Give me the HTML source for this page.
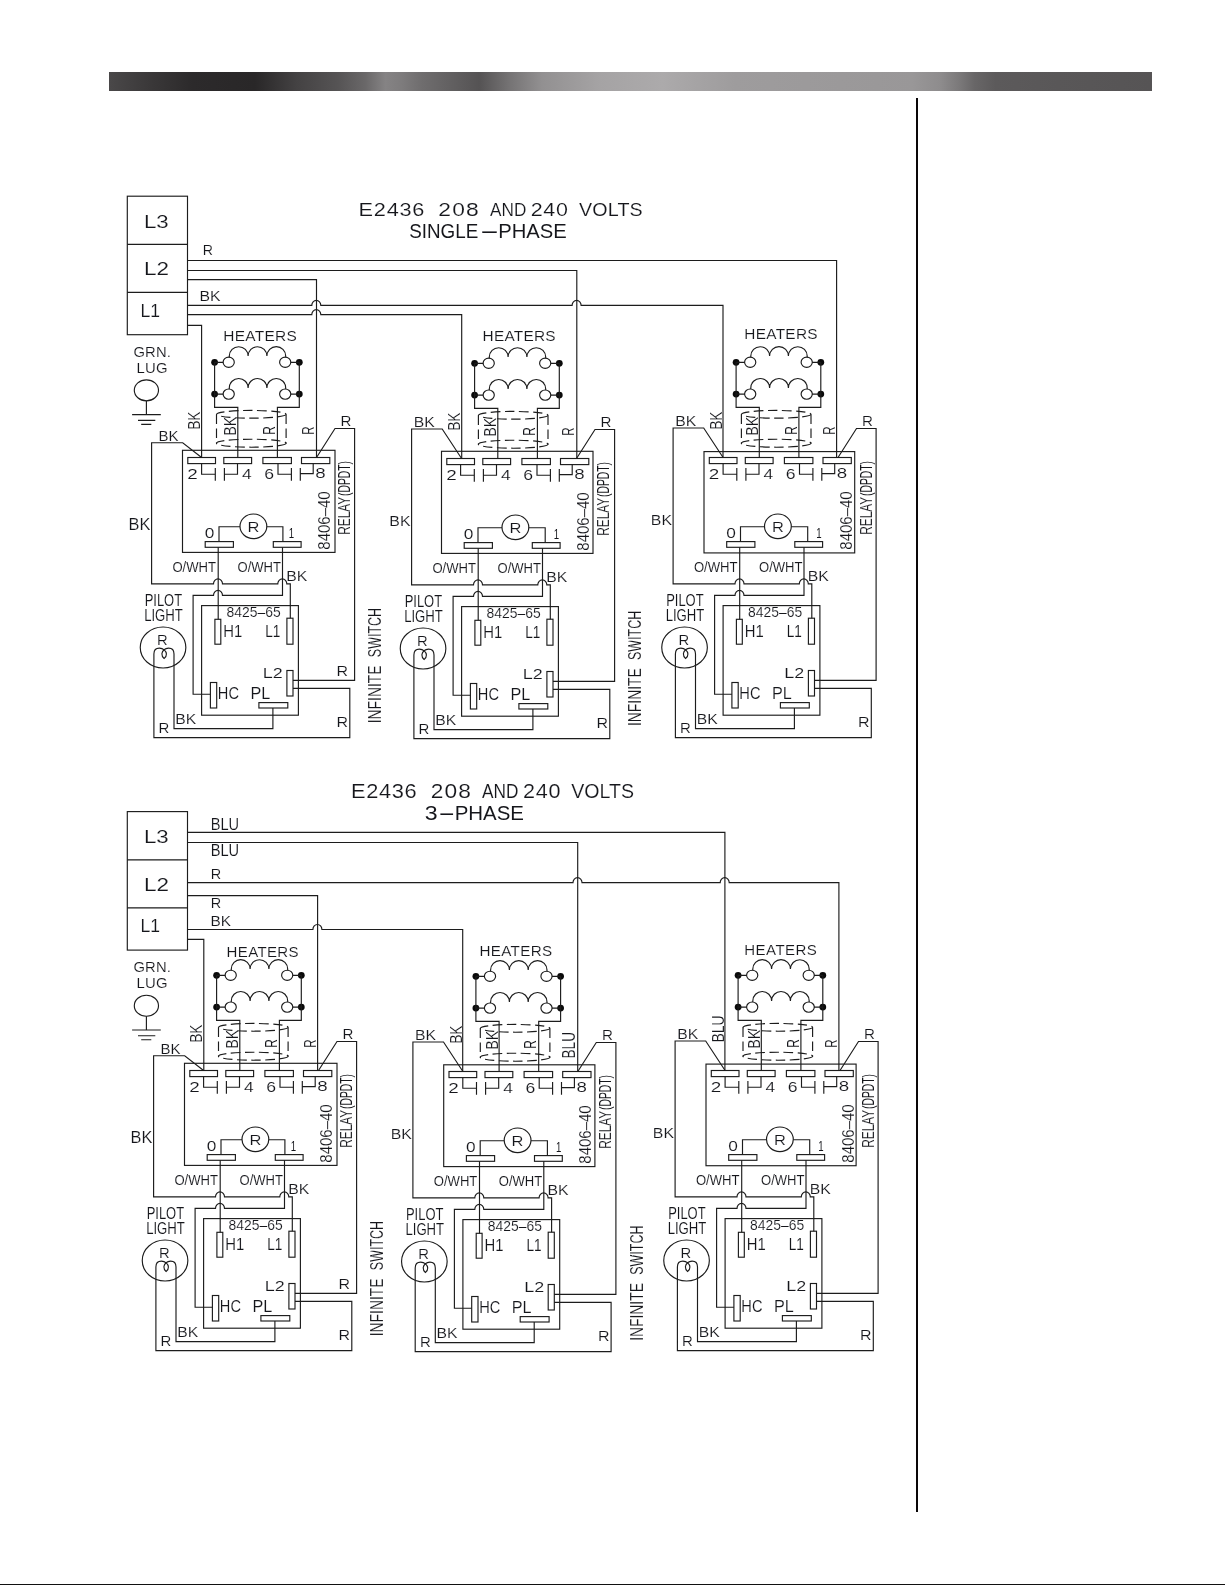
<!DOCTYPE html>
<html><head><meta charset="utf-8"><title>E2436 Wiring Diagrams</title>
<style>
html,body{margin:0;padding:0;background:#fff}
body{width:1225px;height:1585px;position:relative;overflow:hidden;font-family:"Liberation Sans",sans-serif}
.bar{position:absolute;left:109px;top:72px;width:1043px;height:19px;background:linear-gradient(to right,#4a4849 0,#3a3839 4%,#2c2a2b 8%,#292728 14%,#444243 18%,#565455 22%,#6a6869 24.6%,#858384 26.5%,#7e7c7d 28%,#6f6d6e 30%,#555354 35.5%,#767475 38.5%,#929091 41.5%,#a5a3a4 47%,#acaaab 53%,#9e9c9d 60%,#999798 77%,#8e8c8d 79.7%,#7a7879 81.6%,#686667 83%,#5c5a5b 85%,#595758 91%,#565455 100%)}
.vline{position:absolute;left:916px;top:98px;width:2px;height:1414px;background:#0a0708}
.bline{position:absolute;left:0;top:1584px;width:1225px;height:1px;background:#111}
svg{position:absolute;left:0;top:0;will-change:transform}
svg path,svg rect,svg ellipse{fill:none;stroke:#1c1c1c;stroke-width:1.15}
svg text{font-family:"Liberation Sans",sans-serif;font-size:200px;fill:#15161b;stroke:#fff;stroke-width:0.14px;vector-effect:non-scaling-stroke}
svg text.c1{stroke-width:0.1px}
svg text.c2{stroke:none}
</style></head><body>
<div class="bar"></div><div class="vline"></div><div class="bline"></div>
<svg width="1225" height="1585" viewBox="0 0 1225 1585">
<rect x="127.3" y="196.2" width="60.2" height="138.5" />
<path d="M127.3,244.4H187.5M127.3,292.4H187.5" />
<text transform="matrix(0.11111 0 0 0.09493 144.02 227.7)">L3</text>
<text transform="matrix(0.11224 0 0 0.09275 144 275.4)">L2</text>
<text transform="matrix(0.08782 0 0 0.09420 140.49 316.9)">L1</text>
<text letter-spacing="2.04" transform="matrix(0.07398 0 0 0.07174 133.46 356.9)">GRN.</text>
<text letter-spacing="3.72" transform="matrix(0.07440 0 0 0.07101 136.41 372.5)">LUG</text>
<ellipse cx="146.4" cy="390.3" rx="12.1" ry="10.5" />
<path d="M146.4,400.8V414.6M132.1,414.6H160.8M138,420.3H155.3M141.2,424.3H151.3" />
<text letter-spacing="7.05" transform="matrix(0.10855 0 0 0.09565 358.56 216.3)">E2436</text>
<text letter-spacing="10.88" transform="matrix(0.11403 0 0 0.09565 438.26 216.3)">208</text>
<text transform="matrix(0.08596 0 0 0.09565 490.1 216.3)">AND</text>
<text letter-spacing="7.37" transform="matrix(0.10733 0 0 0.09565 530.63 216.3)">240</text>
<text letter-spacing="1.94" transform="matrix(0.09847 0 0 0.09565 578.9 216.3)">VOLTS</text>
<text transform="matrix(0.09783 0 0 0.09783 0 237.9)"><tspan x="4182.45" textLength="705.92" lengthAdjust="spacingAndGlyphs">SINGLE</tspan><tspan x="4902.58" textLength="204.27" lengthAdjust="spacingAndGlyphs">-</tspan><tspan x="5093.56" textLength="700.55" lengthAdjust="spacingAndGlyphs">PHASE</tspan></text>
<text transform="matrix(0.07059 0 0 0.07101 202.67 255.3)">R</text>
<text transform="matrix(0.07903 0 0 0.07464 199.54 301)">BK</text>
<path d="M187.5,260.5H836.6V457.5" />
<path d="M187.5,270.5H576.8V458.6" />
<path d="M187.5,279.6H316.5V457.5" />
<path d="M187.5,305.3H311.8 A4.5 5 0 0 1 320.8,305.3 H572.1 A4.5 5 0 0 1 581.1,305.3 H723V457.5" />
<path d="M187.5,314.6H311.8 A4.5 5 0 0 1 320.8,314.6 H461.7V458.6" />
<path d="M187.5,325.3H201.6V457.5" />
<text letter-spacing="3.45" transform="matrix(0.07732 0 0 0.07319 223.26 341)">HEATERS</text>
<circle cx="214.6" cy="362.3" r="3.4" fill="#0a0a0a" stroke="none"/>
<circle cx="299.3" cy="362.3" r="3.4" fill="#0a0a0a" stroke="none"/>
<ellipse cx="228.7" cy="362.3" rx="5.6" ry="5.1" />
<ellipse cx="285.2" cy="362.3" rx="5.6" ry="5.1" />
<path d="M214.6,362.3H223.3M290.6,362.3H299.3" />
<path d="M229.3,357.2V356.1A9.4 9.4 0 0 1 248.1,356.1A9.4 9.4 0 0 1 266.9,356.1A9.4 9.4 0 0 1 285.7,356.1V357.2" />
<circle cx="214.6" cy="394.1" r="3.4" fill="#0a0a0a" stroke="none"/>
<circle cx="299.3" cy="394.1" r="3.4" fill="#0a0a0a" stroke="none"/>
<ellipse cx="228.7" cy="394.1" rx="5.6" ry="5.1" />
<ellipse cx="285.2" cy="394.1" rx="5.6" ry="5.1" />
<path d="M214.6,394.1H223.3M290.6,394.1H299.3" />
<path d="M229.3,389V387.9A9.4 9.4 0 0 1 248.1,387.9A9.4 9.4 0 0 1 266.9,387.9A9.4 9.4 0 0 1 285.7,387.9V389" />
<path d="M214.6,362.3V407.3H237.8V457.5" />
<path d="M299.3,362.3V407.3H277.4V457.5" />
<ellipse cx="251.3" cy="414.3" rx="34.8" ry="3.9" stroke-dasharray="9.5 4.5"/>
<ellipse cx="251.3" cy="443.2" rx="34.8" ry="4" stroke-dasharray="9.5 4.5"/>
<path d="M216.5,414.4V443.4M286.1,414.4V443.4" stroke-dasharray="9.5 4.5"/>
<text class="c1" transform="matrix(0 -0.07097 0.08116 0 236.4 435.64)">BK</text>
<text class="c2" transform="matrix(0 -0.05966 0.08551 0 275.1 434.85)">R</text>
<text class="c1" transform="matrix(0 -0.06734 0.08188 0 200.2 429.58)">BK</text>
<text class="c1" transform="matrix(0 -0.05798 0.08043 0 313.9 434.63)">R</text>
<rect x="182.5" y="450.3" width="152.5" height="102.1" />
<rect x="187.8" y="457.5" width="27.7" height="6.1" />
<rect x="223.8" y="457.5" width="27.8" height="6.1" />
<rect x="262.9" y="457.5" width="28.5" height="6.1" />
<rect x="301.5" y="457.5" width="28.3" height="6.1" />
<path d="M201.6,463.6V474.2H215.3M215.3,467.9V480.7" />
<path d="M224.4,467.9V480.7M224.4,474.2H237.5V463.6" />
<path d="M278,463.6V474.2H291.4M291.4,467.9V480.7" />
<path d="M300.3,467.9V480.7M300.3,473.6H313.2V463.6" />
<text transform="matrix(0.09451 0 0 0.07174 187.15 478.7)">2</text>
<text transform="matrix(0.08713 0 0 0.07174 242.05 478.7)">4</text>
<text transform="matrix(0.08817 0 0 0.07174 264.32 478.7)">6</text>
<text transform="matrix(0.09362 0 0 0.07391 315.36 478.4)">8</text>
<ellipse cx="253.4" cy="526.3" rx="13.4" ry="12.3" />
<text transform="matrix(0.08235 0 0 0.07246 247.38 531.7)">R</text>
<rect x="205.2" y="541.6" width="28.2" height="5.7" />
<rect x="273.3" y="541.6" width="27.8" height="5.7" />
<path d="M219,541.6V526.7H240M266.8,526.7H282.9V541.6" />
<text transform="matrix(0.08646 0 0 0.07246 204.81 537.9)">0</text>
<text class="c2" transform="matrix(0.04828 0 0 0.07246 288.78 537.9)">1</text>
<text transform="matrix(0 -0.07493 0.07971 0 330.1 549.67)">8406–40</text>
<text class="c1" transform="matrix(0 -0.05942 0.07826 0 350.1 534.85)">RELAY</text>
<text class="c2" transform="matrix(0 -0.05176 0.07826 0 350.1 496.02)">(DPDT)</text>
<text class="c1" transform="matrix(0.06554 0 0 0.07609 172.41 572.4)">O/WHT</text>
<text class="c1" transform="matrix(0.06524 0 0 0.07609 237.51 572.4)">O/WHT</text>
<path d="M218.2,547.3V619.3" />
<text transform="matrix(0.07500 0 0 0.07029 158.6 440.7)">BK</text>
<path d="M201.6,457.5L182.7,442.7H151.6V583.8H213.5 A4.5 5 0 0 1 222.5,583.8 H277.8 A4.5 5 0 0 1 286.8,583.8 H290.3V618.2" />
<path d="M282.5,547.3V595.4H222.5 A4.5 5 0 0 0 213.5,595.4 H193.1V694.2H210.4" />
<text transform="matrix(0.07903 0 0 0.07319 286.14 581.2)">BK</text>
<text transform="matrix(0.08185 0 0 0.07971 128.59 529.8)">BK</text>
<rect x="201.6" y="605.6" width="96.8" height="109.6" />
<text transform="matrix(0.06965 0 0 0.06884 226.47 617.4)">8425–65</text>
<rect x="214.9" y="619.3" width="5.9" height="24.9" />
<rect x="286.9" y="618.2" width="6.1" height="26" />
<rect x="286.9" y="670.5" width="6.1" height="25.5" />
<rect x="210.4" y="682.5" width="6.3" height="25.5" />
<rect x="258.9" y="702.6" width="28.9" height="5.4" />
<text transform="matrix(0.07435 0 0 0.07826 223.21 636.7)">H1</text>
<text class="c1" transform="matrix(0.06802 0 0 0.07826 265.21 636.7)">L1</text>
<text transform="matrix(0.08980 0 0 0.07246 262.86 677.6)">L2</text>
<text transform="matrix(0.07321 0 0 0.07826 217.83 699.2)">HC</text>
<text transform="matrix(0.08108 0 0 0.07826 250.4 699.2)">PL</text>
<path d="M293,680.3H354.6V428.5H335L316.5,457.5" />
<text transform="matrix(0.07563 0 0 0.06957 340.59 425.8)">R</text>
<ellipse cx="163.05" cy="647.5" rx="22.8" ry="20.5" />
<text transform="matrix(0.07395 0 0 0.07681 157.02 644.5)">R</text>
<text class="c1" transform="matrix(0.06487 0 0 0.08333 144.66 605.7)">PILOT</text>
<text class="c1" transform="matrix(0.06573 0 0 0.08261 144.15 620.7)">LIGHT</text>
<path d="M293,688.4H349.8V737.6H153.9V654C153.9,650.2 156.3,648.1 159.4,648.1C163.2,648.1 166.2,651 166.4,654C166.4,656 165.5,657.8 164.1,658.6C162.6,657.6 161.9,655.5 161.9,653.8C162.2,650.6 165,648.1 168.6,648.1C171.6,648.1 174,650.2 174,654V728.6H272.9V708" />
<text transform="matrix(0.07863 0 0 0.07391 175.24 723.8)">BK</text>
<text transform="matrix(0.07479 0 0 0.07101 158.6 733.1)">R</text>
<text transform="matrix(0.07983 0 0 0.07246 336.62 675.8)">R</text>
<text transform="matrix(0.07983 0 0 0.07391 336.62 727.4)">R</text>
<text class="c1" transform="matrix(0 -0.06939 0.08768 0 380.5 723.25)">INFINITE</text>
<text class="c1" transform="matrix(0 -0.06239 0.08768 0 380.5 657.16)">SWITCH</text>
<text letter-spacing="3.21" transform="matrix(0.07701 0 0 0.07319 482.57 341.2)">HEATERS</text>
<circle cx="474.6" cy="363.3" r="3.4" fill="#0a0a0a" stroke="none"/>
<circle cx="559.3" cy="363.3" r="3.4" fill="#0a0a0a" stroke="none"/>
<ellipse cx="488.7" cy="363.3" rx="5.6" ry="5.1" />
<ellipse cx="545.2" cy="363.3" rx="5.6" ry="5.1" />
<path d="M474.6,363.3H483.3M550.6,363.3H559.3" />
<path d="M489.3,358.2V357.1A9.4 9.4 0 0 1 508.1,357.1A9.4 9.4 0 0 1 526.9,357.1A9.4 9.4 0 0 1 545.7,357.1V358.2" />
<circle cx="474.6" cy="395.1" r="3.4" fill="#0a0a0a" stroke="none"/>
<circle cx="559.3" cy="395.1" r="3.4" fill="#0a0a0a" stroke="none"/>
<ellipse cx="488.7" cy="395.1" rx="5.6" ry="5.1" />
<ellipse cx="545.2" cy="395.1" rx="5.6" ry="5.1" />
<path d="M474.6,395.1H483.3M550.6,395.1H559.3" />
<path d="M489.3,390V388.9A9.4 9.4 0 0 1 508.1,388.9A9.4 9.4 0 0 1 526.9,388.9A9.4 9.4 0 0 1 545.7,388.9V390" />
<path d="M474.6,363.3V408.3H497.8V458.5" />
<path d="M559.3,363.3V408.3H537.4V458.5" />
<ellipse cx="513.2" cy="415.3" rx="34.8" ry="3.9" stroke-dasharray="9.5 4.5"/>
<ellipse cx="513.2" cy="444.2" rx="34.8" ry="4" stroke-dasharray="9.5 4.5"/>
<path d="M478.4,415.4V444.4M548,415.4V444.4" stroke-dasharray="9.5 4.5"/>
<text class="c1" transform="matrix(0 -0.07097 0.08116 0 496.4 436.64)">BK</text>
<text class="c2" transform="matrix(0 -0.05966 0.08551 0 535.1 435.85)">R</text>
<text class="c1" transform="matrix(0 -0.06734 0.08188 0 460.2 430.58)">BK</text>
<text class="c1" transform="matrix(0 -0.05798 0.08043 0 573.9 435.63)">R</text>
<rect x="441.5" y="451.3" width="151.5" height="102.1" />
<rect x="446.8" y="458.5" width="27.7" height="6.1" />
<rect x="482.8" y="458.5" width="27.8" height="6.1" />
<rect x="521.9" y="458.5" width="28.5" height="6.1" />
<rect x="560.5" y="458.5" width="28.3" height="6.1" />
<path d="M460.6,464.6V475.2H474.3M474.3,468.9V481.7" />
<path d="M483.4,468.9V481.7M483.4,475.2H496.5V464.6" />
<path d="M537,464.6V475.2H550.4M550.4,468.9V481.7" />
<path d="M559.3,468.9V481.7M559.3,474.6H572.2V464.6" />
<text transform="matrix(0.09451 0 0 0.07174 446.15 479.7)">2</text>
<text transform="matrix(0.08713 0 0 0.07174 501.05 479.7)">4</text>
<text transform="matrix(0.08817 0 0 0.07174 523.32 479.7)">6</text>
<text transform="matrix(0.09362 0 0 0.07391 574.36 479.4)">8</text>
<ellipse cx="515.4" cy="527.3" rx="13.4" ry="12.3" />
<text transform="matrix(0.08235 0 0 0.07246 509.38 532.7)">R</text>
<rect x="464.2" y="542.6" width="28.2" height="5.7" />
<rect x="532.3" y="542.6" width="27.8" height="5.7" />
<path d="M478,542.6V527.7H502M528.8,527.7H545.2V542.6" />
<text transform="matrix(0.08646 0 0 0.07246 463.81 538.9)">0</text>
<text class="c2" transform="matrix(0.04828 0 0 0.07246 553.78 538.9)">1</text>
<text transform="matrix(0 -0.07493 0.07971 0 589.1 550.67)">8406–40</text>
<text class="c1" transform="matrix(0 -0.05942 0.07826 0 609.1 535.85)">RELAY</text>
<text class="c2" transform="matrix(0 -0.05176 0.07826 0 609.1 497.02)">(DPDT)</text>
<text class="c1" transform="matrix(0.06554 0 0 0.07609 432.41 573.4)">O/WHT</text>
<text class="c1" transform="matrix(0.06524 0 0 0.07609 497.51 573.4)">O/WHT</text>
<path d="M478.2,548.3V620.3" />
<text transform="matrix(0.07903 0 0 0.07246 413.74 427)">BK</text>
<path d="M461.6,458.5L442.2,429H411.6V584.8H473.5 A4.5 5 0 0 1 482.5,584.8 H537.8 A4.5 5 0 0 1 546.8,584.8 H550.3V619.2" />
<path d="M542.5,548.3V596.4H482.5 A4.5 5 0 0 0 473.5,596.4 H453.1V695.2H470.4" />
<text transform="matrix(0.07903 0 0 0.07319 546.14 582.2)">BK</text>
<text transform="matrix(0.07944 0 0 0.07681 389.33 525.9)">BK</text>
<rect x="461.6" y="606.6" width="96.8" height="109.6" />
<text transform="matrix(0.06965 0 0 0.06884 486.47 618.4)">8425–65</text>
<rect x="474.9" y="620.3" width="5.9" height="24.9" />
<rect x="546.9" y="619.2" width="6.1" height="26" />
<rect x="546.9" y="671.5" width="6.1" height="25.5" />
<rect x="470.4" y="683.5" width="6.3" height="25.5" />
<rect x="518.9" y="703.6" width="28.9" height="5.4" />
<text transform="matrix(0.07435 0 0 0.07826 483.21 637.7)">H1</text>
<text class="c1" transform="matrix(0.06802 0 0 0.07826 525.21 637.7)">L1</text>
<text transform="matrix(0.08980 0 0 0.07246 522.86 678.6)">L2</text>
<text transform="matrix(0.07321 0 0 0.07826 477.83 700.2)">HC</text>
<text transform="matrix(0.08108 0 0 0.07826 510.4 700.2)">PL</text>
<path d="M553,681.3H614.6V429.5H595L576.5,458.5" />
<text transform="matrix(0.07563 0 0 0.06957 600.59 426.8)">R</text>
<ellipse cx="423.05" cy="648.5" rx="22.8" ry="20.5" />
<text transform="matrix(0.07395 0 0 0.07681 417.02 645.5)">R</text>
<text class="c1" transform="matrix(0.06487 0 0 0.08333 404.66 606.7)">PILOT</text>
<text class="c1" transform="matrix(0.06573 0 0 0.08261 404.15 621.7)">LIGHT</text>
<path d="M553,689.4H609.8V738.6H413.9V655C413.9,651.2 416.3,649.1 419.4,649.1C423.2,649.1 426.2,652 426.4,655C426.4,657 425.5,658.8 424.1,659.6C422.6,658.6 421.9,656.5 421.9,654.8C422.2,651.6 425,649.1 428.6,649.1C431.6,649.1 434,651.2 434,655V729.6H532.9V709" />
<text transform="matrix(0.07863 0 0 0.07391 435.24 724.8)">BK</text>
<text transform="matrix(0.07479 0 0 0.07101 418.6 734.1)">R</text>
<text transform="matrix(0.07983 0 0 0.07391 596.62 728.4)">R</text>
<text class="c1" transform="matrix(0 -0.06939 0.08768 0 640.5 726.05)">INFINITE</text>
<text class="c1" transform="matrix(0 -0.06239 0.08768 0 640.5 659.96)">SWITCH</text>
<text letter-spacing="3.83" transform="matrix(0.07703 0 0 0.07246 744.27 339.2)">HEATERS</text>
<circle cx="736.1" cy="362.3" r="3.4" fill="#0a0a0a" stroke="none"/>
<circle cx="820.8" cy="362.3" r="3.4" fill="#0a0a0a" stroke="none"/>
<ellipse cx="750.2" cy="362.3" rx="5.6" ry="5.1" />
<ellipse cx="806.7" cy="362.3" rx="5.6" ry="5.1" />
<path d="M736.1,362.3H744.8M812.1,362.3H820.8" />
<path d="M750.8,357.2V356.1A9.4 9.4 0 0 1 769.6,356.1A9.4 9.4 0 0 1 788.4,356.1A9.4 9.4 0 0 1 807.2,356.1V357.2" />
<circle cx="736.1" cy="394.1" r="3.4" fill="#0a0a0a" stroke="none"/>
<circle cx="820.8" cy="394.1" r="3.4" fill="#0a0a0a" stroke="none"/>
<ellipse cx="750.2" cy="394.1" rx="5.6" ry="5.1" />
<ellipse cx="806.7" cy="394.1" rx="5.6" ry="5.1" />
<path d="M736.1,394.1H744.8M812.1,394.1H820.8" />
<path d="M750.8,389V387.9A9.4 9.4 0 0 1 769.6,387.9A9.4 9.4 0 0 1 788.4,387.9A9.4 9.4 0 0 1 807.2,387.9V389" />
<path d="M736.1,362.3V407.3H759.3V457.5" />
<path d="M820.8,362.3V407.3H798.9V457.5" />
<ellipse cx="776.2" cy="414.3" rx="34.8" ry="3.9" stroke-dasharray="9.5 4.5"/>
<ellipse cx="776.2" cy="443.2" rx="34.8" ry="4" stroke-dasharray="9.5 4.5"/>
<path d="M741.4,414.4V443.4M811,414.4V443.4" stroke-dasharray="9.5 4.5"/>
<text class="c1" transform="matrix(0 -0.07097 0.08116 0 757.9 435.64)">BK</text>
<text class="c2" transform="matrix(0 -0.05966 0.08551 0 796.6 434.85)">R</text>
<text class="c1" transform="matrix(0 -0.06734 0.08188 0 721.7 429.58)">BK</text>
<text class="c1" transform="matrix(0 -0.05798 0.08043 0 835.4 434.63)">R</text>
<rect x="704" y="451.6" width="150.7" height="101.32" />
<rect x="709.3" y="457.5" width="27.7" height="6.1" />
<rect x="745.3" y="457.5" width="27.8" height="6.1" />
<rect x="784.4" y="457.5" width="28.5" height="6.1" />
<rect x="823" y="457.5" width="28.3" height="6.1" />
<path d="M723.1,463.6V474.2H736.8M736.8,467.9V480.7" />
<path d="M745.9,467.9V480.7M745.9,474.2H759V463.6" />
<path d="M799.5,463.6V474.2H812.9M812.9,467.9V480.7" />
<path d="M821.8,467.9V480.7M821.8,473.6H834.7V463.6" />
<text transform="matrix(0.09451 0 0 0.07174 708.65 478.7)">2</text>
<text transform="matrix(0.08713 0 0 0.07174 763.55 478.7)">4</text>
<text transform="matrix(0.08817 0 0 0.07174 785.82 478.7)">6</text>
<text transform="matrix(0.09362 0 0 0.07391 836.86 478.4)">8</text>
<ellipse cx="777.9" cy="526.3" rx="13.4" ry="12.3" />
<text transform="matrix(0.08235 0 0 0.07246 771.88 531.7)">R</text>
<rect x="726.7" y="541.6" width="28.2" height="5.7" />
<rect x="794.8" y="541.6" width="27.8" height="5.7" />
<path d="M740.5,541.6V526.7H764.5M791.3,526.7H807.7V541.6" />
<text transform="matrix(0.08646 0 0 0.07246 726.31 537.9)">0</text>
<text class="c2" transform="matrix(0.04828 0 0 0.07246 816.28 537.9)">1</text>
<text transform="matrix(0 -0.07493 0.07971 0 851.6 549.67)">8406–40</text>
<text class="c1" transform="matrix(0 -0.05942 0.07826 0 871.6 534.85)">RELAY</text>
<text class="c2" transform="matrix(0 -0.05176 0.07826 0 871.6 496.02)">(DPDT)</text>
<text class="c1" transform="matrix(0.06554 0 0 0.07609 693.91 572.4)">O/WHT</text>
<text class="c1" transform="matrix(0.06524 0 0 0.07609 759.01 572.4)">O/WHT</text>
<path d="M739.7,547.3V619.3" />
<text transform="matrix(0.07903 0 0 0.07246 675.24 426)">BK</text>
<path d="M723.1,457.5L703.7,428H673.1V583.8H735 A4.5 5 0 0 1 744,583.8 H799.3 A4.5 5 0 0 1 808.3,583.8 H811.8V618.2" />
<path d="M804,547.3V595.4H744 A4.5 5 0 0 0 735,595.4 H714.6V694.2H731.9" />
<text transform="matrix(0.07903 0 0 0.07319 807.64 581.2)">BK</text>
<text transform="matrix(0.07944 0 0 0.07681 650.83 524.9)">BK</text>
<rect x="723.1" y="605.6" width="96.8" height="109.6" />
<text transform="matrix(0.06965 0 0 0.06884 747.97 617.4)">8425–65</text>
<rect x="736.4" y="619.3" width="5.9" height="24.9" />
<rect x="808.4" y="618.2" width="6.1" height="26" />
<rect x="808.4" y="670.5" width="6.1" height="25.5" />
<rect x="731.9" y="682.5" width="6.3" height="25.5" />
<rect x="780.4" y="702.6" width="28.9" height="5.4" />
<text transform="matrix(0.07435 0 0 0.07826 744.71 636.7)">H1</text>
<text class="c1" transform="matrix(0.06802 0 0 0.07826 786.71 636.7)">L1</text>
<text transform="matrix(0.08980 0 0 0.07246 784.36 677.6)">L2</text>
<text transform="matrix(0.07321 0 0 0.07826 739.33 699.2)">HC</text>
<text transform="matrix(0.08108 0 0 0.07826 771.9 699.2)">PL</text>
<path d="M814.5,680.3H876.1V428.5H856.5L838,457.5" />
<text transform="matrix(0.07563 0 0 0.06957 862.09 425.8)">R</text>
<ellipse cx="684.55" cy="647.5" rx="22.8" ry="20.5" />
<text transform="matrix(0.07395 0 0 0.07681 678.52 644.5)">R</text>
<text class="c1" transform="matrix(0.06487 0 0 0.08333 666.16 605.7)">PILOT</text>
<text class="c1" transform="matrix(0.06573 0 0 0.08261 665.65 620.7)">LIGHT</text>
<path d="M814.5,688.4H871.3V737.6H675.4V654C675.4,650.2 677.8,648.1 680.9,648.1C684.7,648.1 687.7,651 687.9,654C687.9,656 687,657.8 685.6,658.6C684.1,657.6 683.4,655.5 683.4,653.8C683.7,650.6 686.5,648.1 690.1,648.1C693.1,648.1 695.5,650.2 695.5,654V728.6H794.4V708" />
<text transform="matrix(0.07863 0 0 0.07391 696.74 723.8)">BK</text>
<text transform="matrix(0.07479 0 0 0.07101 680.1 733.1)">R</text>
<text transform="matrix(0.07983 0 0 0.07391 858.12 727.4)">R</text>
<rect x="127.3" y="811.6" width="60.2" height="138.5" />
<path d="M127.3,859.8H187.5M127.3,907.8H187.5" />
<text transform="matrix(0.11111 0 0 0.09493 144.02 843.1)">L3</text>
<text transform="matrix(0.11224 0 0 0.09275 144 890.8)">L2</text>
<text transform="matrix(0.08782 0 0 0.09420 140.49 932.3)">L1</text>
<text letter-spacing="2.04" transform="matrix(0.07398 0 0 0.07174 133.46 972.3)">GRN.</text>
<text letter-spacing="3.72" transform="matrix(0.07440 0 0 0.07101 136.41 987.9)">LUG</text>
<ellipse cx="146.4" cy="1005.7" rx="12.1" ry="10.5" />
<path d="M146.4,1016.2V1030M132.1,1030H160.8M138,1035.7H155.3M141.2,1039.7H151.3" />
<text letter-spacing="6.18" transform="matrix(0.10920 0 0 0.09783 350.95 797.8)">E2436</text>
<text letter-spacing="9.47" transform="matrix(0.11379 0 0 0.09783 430.66 797.8)">208</text>
<text class="c1" transform="matrix(0.08620 0 0 0.09783 482 797.8)">AND</text>
<text letter-spacing="6.37" transform="matrix(0.10799 0 0 0.09783 523.12 797.8)">240</text>
<text transform="matrix(0.09794 0 0 0.09783 571.3 797.8)">VOLTS</text>
<text transform="matrix(0.10290 0 0 0.10290 0 820.3)"><tspan x="4128.08" textLength="125.17" lengthAdjust="spacingAndGlyphs">3</tspan><tspan x="4257.1" textLength="169.1" lengthAdjust="spacingAndGlyphs">-</tspan><tspan x="4418.56" textLength="674.08" lengthAdjust="spacingAndGlyphs">PHASE</tspan></text>
<text transform="matrix(0.07318 0 0 0.08188 210.63 829.5)">BLU</text>
<text class="c1" transform="matrix(0.07318 0 0 0.08333 210.63 856.2)">BLU</text>
<text transform="matrix(0.07227 0 0 0.07101 210.64 879)">R</text>
<text transform="matrix(0.07227 0 0 0.06884 210.64 907.6)">R</text>
<text transform="matrix(0.07702 0 0 0.07464 210.57 926)">BK</text>
<path d="M187.5,832.4H724.9V1070.5" />
<path d="M187.5,842.5H577.7V1071.6" />
<path d="M187.5,882.6H573 A4.5 5 0 0 1 582,882.6 H720.2 A4.5 5 0 0 1 729.2,882.6 H838.9V1070.5" />
<path d="M187.5,895.6H317.6V1070.5" />
<path d="M187.5,929.5H312.9 A4.5 5 0 0 1 321.9,929.5 H462.7V1071.6" />
<path d="M187.5,939.4H203.8V1070.5" />
<text letter-spacing="4.8" transform="matrix(0.07515 0 0 0.06957 226.6 957)">HEATERS</text>
<circle cx="216.6" cy="975.3" r="3.4" fill="#0a0a0a" stroke="none"/>
<circle cx="301.3" cy="975.3" r="3.4" fill="#0a0a0a" stroke="none"/>
<ellipse cx="230.7" cy="975.3" rx="5.6" ry="5.1" />
<ellipse cx="287.2" cy="975.3" rx="5.6" ry="5.1" />
<path d="M216.6,975.3H225.3M292.6,975.3H301.3" />
<path d="M231.3,970.2V969.1A9.4 9.4 0 0 1 250.1,969.1A9.4 9.4 0 0 1 268.9,969.1A9.4 9.4 0 0 1 287.7,969.1V970.2" />
<circle cx="216.6" cy="1007.1" r="3.4" fill="#0a0a0a" stroke="none"/>
<circle cx="301.3" cy="1007.1" r="3.4" fill="#0a0a0a" stroke="none"/>
<ellipse cx="230.7" cy="1007.1" rx="5.6" ry="5.1" />
<ellipse cx="287.2" cy="1007.1" rx="5.6" ry="5.1" />
<path d="M216.6,1007.1H225.3M292.6,1007.1H301.3" />
<path d="M231.3,1002V1000.9A9.4 9.4 0 0 1 250.1,1000.9A9.4 9.4 0 0 1 268.9,1000.9A9.4 9.4 0 0 1 287.7,1000.9V1002" />
<path d="M216.6,975.3V1020.3H239.8V1070.5" />
<path d="M301.3,975.3V1020.3H279.4V1070.5" />
<ellipse cx="253.3" cy="1027.3" rx="34.8" ry="3.9" stroke-dasharray="9.5 4.5"/>
<ellipse cx="253.3" cy="1056.2" rx="34.8" ry="4" stroke-dasharray="9.5 4.5"/>
<path d="M218.5,1027.4V1056.4M288.1,1027.4V1056.4" stroke-dasharray="9.5 4.5"/>
<text class="c1" transform="matrix(0 -0.07097 0.08116 0 238.4 1048.64)">BK</text>
<text class="c2" transform="matrix(0 -0.05966 0.08551 0 277.1 1047.85)">R</text>
<text class="c1" transform="matrix(0 -0.06734 0.08188 0 202.2 1042.58)">BK</text>
<text class="c1" transform="matrix(0 -0.05798 0.08043 0 315.9 1047.63)">R</text>
<rect x="184.5" y="1063.3" width="152.5" height="102.1" />
<rect x="189.8" y="1070.5" width="27.7" height="6.1" />
<rect x="225.8" y="1070.5" width="27.8" height="6.1" />
<rect x="264.9" y="1070.5" width="28.5" height="6.1" />
<rect x="303.5" y="1070.5" width="28.3" height="6.1" />
<path d="M203.6,1076.6V1087.2H217.3M217.3,1080.9V1093.7" />
<path d="M226.4,1080.9V1093.7M226.4,1087.2H239.5V1076.6" />
<path d="M280,1076.6V1087.2H293.4M293.4,1080.9V1093.7" />
<path d="M302.3,1080.9V1093.7M302.3,1086.6H315.2V1076.6" />
<text transform="matrix(0.09451 0 0 0.07174 189.15 1091.7)">2</text>
<text transform="matrix(0.08713 0 0 0.07174 244.05 1091.7)">4</text>
<text transform="matrix(0.08817 0 0 0.07174 266.32 1091.7)">6</text>
<text transform="matrix(0.09362 0 0 0.07391 317.36 1091.4)">8</text>
<ellipse cx="255.4" cy="1139.3" rx="13.4" ry="12.3" />
<text transform="matrix(0.08235 0 0 0.07246 249.38 1144.7)">R</text>
<rect x="207.2" y="1154.6" width="28.2" height="5.7" />
<rect x="275.3" y="1154.6" width="27.8" height="5.7" />
<path d="M221,1154.6V1139.7H242M268.8,1139.7H284.9V1154.6" />
<text transform="matrix(0.08646 0 0 0.07246 206.81 1150.9)">0</text>
<text class="c2" transform="matrix(0.04828 0 0 0.07246 290.78 1150.9)">1</text>
<text transform="matrix(0 -0.07493 0.07971 0 332.1 1162.67)">8406–40</text>
<text class="c1" transform="matrix(0 -0.05942 0.07826 0 352.1 1147.85)">RELAY</text>
<text class="c2" transform="matrix(0 -0.05176 0.07826 0 352.1 1109.02)">(DPDT)</text>
<text class="c1" transform="matrix(0.06554 0 0 0.07609 174.41 1185.4)">O/WHT</text>
<text class="c1" transform="matrix(0.06524 0 0 0.07609 239.51 1185.4)">O/WHT</text>
<path d="M220.2,1160.3V1232.3" />
<text transform="matrix(0.07500 0 0 0.07029 160.6 1053.7)">BK</text>
<path d="M203.6,1070.5L184.7,1055.7H153.6V1196.8H215.5 A4.5 5 0 0 1 224.5,1196.8 H279.8 A4.5 5 0 0 1 288.8,1196.8 H292.3V1231.2" />
<path d="M284.5,1160.3V1208.4H224.5 A4.5 5 0 0 0 215.5,1208.4 H195.1V1307.2H212.4" />
<text transform="matrix(0.07903 0 0 0.07319 288.14 1194.2)">BK</text>
<text transform="matrix(0.08185 0 0 0.07971 130.59 1142.8)">BK</text>
<rect x="203.6" y="1218.6" width="96.8" height="109.6" />
<text transform="matrix(0.06965 0 0 0.06884 228.47 1230.4)">8425–65</text>
<rect x="216.9" y="1232.3" width="5.9" height="24.9" />
<rect x="288.9" y="1231.2" width="6.1" height="26" />
<rect x="288.9" y="1283.5" width="6.1" height="25.5" />
<rect x="212.4" y="1295.5" width="6.3" height="25.5" />
<rect x="260.9" y="1315.6" width="28.9" height="5.4" />
<text transform="matrix(0.07435 0 0 0.07826 225.21 1249.7)">H1</text>
<text class="c1" transform="matrix(0.06802 0 0 0.07826 267.21 1249.7)">L1</text>
<text transform="matrix(0.08980 0 0 0.07246 264.86 1290.6)">L2</text>
<text transform="matrix(0.07321 0 0 0.07826 219.83 1312.2)">HC</text>
<text transform="matrix(0.08108 0 0 0.07826 252.4 1312.2)">PL</text>
<path d="M295,1293.3H356.6V1041.5H337L318.5,1070.5" />
<text transform="matrix(0.07563 0 0 0.06957 342.59 1038.8)">R</text>
<ellipse cx="165.05" cy="1260.5" rx="22.8" ry="20.5" />
<text transform="matrix(0.07395 0 0 0.07681 159.02 1257.5)">R</text>
<text class="c1" transform="matrix(0.06487 0 0 0.08333 146.66 1218.7)">PILOT</text>
<text class="c1" transform="matrix(0.06573 0 0 0.08261 146.15 1233.7)">LIGHT</text>
<path d="M295,1301.4H351.8V1350.6H155.9V1267C155.9,1263.2 158.3,1261.1 161.4,1261.1C165.2,1261.1 168.2,1264 168.4,1267C168.4,1269 167.5,1270.8 166.1,1271.6C164.6,1270.6 163.9,1268.5 163.9,1266.8C164.2,1263.6 167,1261.1 170.6,1261.1C173.6,1261.1 176,1263.2 176,1267V1341.6H274.9V1321" />
<text transform="matrix(0.07863 0 0 0.07391 177.24 1336.8)">BK</text>
<text transform="matrix(0.07479 0 0 0.07101 160.6 1346.1)">R</text>
<text transform="matrix(0.07983 0 0 0.07246 338.62 1288.8)">R</text>
<text transform="matrix(0.07983 0 0 0.07391 338.62 1340.4)">R</text>
<text class="c1" transform="matrix(0 -0.06939 0.08768 0 382.5 1336.25)">INFINITE</text>
<text class="c1" transform="matrix(0 -0.06239 0.08768 0 382.5 1270.16)">SWITCH</text>
<text letter-spacing="4.34" transform="matrix(0.07613 0 0 0.07101 479.38 955.8)">HEATERS</text>
<circle cx="475.9" cy="976.3" r="3.4" fill="#0a0a0a" stroke="none"/>
<circle cx="560.6" cy="976.3" r="3.4" fill="#0a0a0a" stroke="none"/>
<ellipse cx="490" cy="976.3" rx="5.6" ry="5.1" />
<ellipse cx="546.5" cy="976.3" rx="5.6" ry="5.1" />
<path d="M475.9,976.3H484.6M551.9,976.3H560.6" />
<path d="M490.6,971.2V970.1A9.4 9.4 0 0 1 509.4,970.1A9.4 9.4 0 0 1 528.2,970.1A9.4 9.4 0 0 1 547,970.1V971.2" />
<circle cx="475.9" cy="1008.1" r="3.4" fill="#0a0a0a" stroke="none"/>
<circle cx="560.6" cy="1008.1" r="3.4" fill="#0a0a0a" stroke="none"/>
<ellipse cx="490" cy="1008.1" rx="5.6" ry="5.1" />
<ellipse cx="546.5" cy="1008.1" rx="5.6" ry="5.1" />
<path d="M475.9,1008.1H484.6M551.9,1008.1H560.6" />
<path d="M490.6,1003V1001.9A9.4 9.4 0 0 1 509.4,1001.9A9.4 9.4 0 0 1 528.2,1001.9A9.4 9.4 0 0 1 547,1001.9V1003" />
<path d="M475.9,976.3V1021.3H499.1V1071.5" />
<path d="M560.6,976.3V1021.3H538.7V1071.5" />
<ellipse cx="515.1" cy="1028.3" rx="34.8" ry="3.9" stroke-dasharray="9.5 4.5"/>
<ellipse cx="515.1" cy="1057.2" rx="34.8" ry="4" stroke-dasharray="9.5 4.5"/>
<path d="M480.3,1028.4V1057.4M549.9,1028.4V1057.4" stroke-dasharray="9.5 4.5"/>
<text class="c1" transform="matrix(0 -0.07097 0.08116 0 497.7 1049.64)">BK</text>
<text class="c2" transform="matrix(0 -0.05966 0.08551 0 536.4 1048.85)">R</text>
<text class="c1" transform="matrix(0 -0.06734 0.08188 0 461.5 1043.58)">BK</text>
<text class="c1" transform="matrix(0 -0.06844 0.08913 0 574.6 1058.59)">BLU</text>
<rect x="443.7" y="1064.8" width="151.2" height="101.8" />
<rect x="449" y="1071.5" width="27.7" height="6.1" />
<rect x="485" y="1071.5" width="27.8" height="6.1" />
<rect x="524.1" y="1071.5" width="28.5" height="6.1" />
<rect x="562.7" y="1071.5" width="28.3" height="6.1" />
<path d="M462.8,1077.6V1088.2H476.5M476.5,1081.9V1094.7" />
<path d="M485.6,1081.9V1094.7M485.6,1088.2H498.7V1077.6" />
<path d="M539.2,1077.6V1088.2H552.6M552.6,1081.9V1094.7" />
<path d="M561.5,1081.9V1094.7M561.5,1087.6H574.4V1077.6" />
<text transform="matrix(0.09451 0 0 0.07174 448.35 1092.7)">2</text>
<text transform="matrix(0.08713 0 0 0.07174 503.25 1092.7)">4</text>
<text transform="matrix(0.08817 0 0 0.07174 525.52 1092.7)">6</text>
<text transform="matrix(0.09362 0 0 0.07391 576.56 1092.4)">8</text>
<ellipse cx="517.6" cy="1140.3" rx="13.4" ry="12.3" />
<text transform="matrix(0.08235 0 0 0.07246 511.58 1145.7)">R</text>
<rect x="466.4" y="1155.6" width="28.2" height="5.7" />
<rect x="534.5" y="1155.6" width="27.8" height="5.7" />
<path d="M480.2,1155.6V1140.7H504.2M531,1140.7H547.4V1155.6" />
<text transform="matrix(0.08646 0 0 0.07246 466.01 1151.9)">0</text>
<text class="c2" transform="matrix(0.04828 0 0 0.07246 555.98 1151.9)">1</text>
<text transform="matrix(0 -0.07493 0.07971 0 591.3 1163.67)">8406–40</text>
<text class="c1" transform="matrix(0 -0.05942 0.07826 0 611.3 1148.85)">RELAY</text>
<text class="c2" transform="matrix(0 -0.05176 0.07826 0 611.3 1110.02)">(DPDT)</text>
<text class="c1" transform="matrix(0.06554 0 0 0.07609 433.71 1186.4)">O/WHT</text>
<text class="c1" transform="matrix(0.06524 0 0 0.07609 498.81 1186.4)">O/WHT</text>
<path d="M479.5,1161.3V1233.3" />
<text transform="matrix(0.07903 0 0 0.07246 415.04 1040)">BK</text>
<path d="M462.9,1071.5L443.5,1042H412.9V1197.8H474.8 A4.5 5 0 0 1 483.8,1197.8 H539.1 A4.5 5 0 0 1 548.1,1197.8 H551.6V1232.2" />
<path d="M543.8,1161.3V1209.4H483.8 A4.5 5 0 0 0 474.8,1209.4 H454.4V1308.2H471.7" />
<text transform="matrix(0.07903 0 0 0.07319 547.44 1195.2)">BK</text>
<text transform="matrix(0.07944 0 0 0.07681 390.63 1138.9)">BK</text>
<rect x="462.9" y="1219.6" width="96.8" height="109.6" />
<text transform="matrix(0.06965 0 0 0.06884 487.77 1231.4)">8425–65</text>
<rect x="476.2" y="1233.3" width="5.9" height="24.9" />
<rect x="548.2" y="1232.2" width="6.1" height="26" />
<rect x="548.2" y="1284.5" width="6.1" height="25.5" />
<rect x="471.7" y="1296.5" width="6.3" height="25.5" />
<rect x="520.2" y="1316.6" width="28.9" height="5.4" />
<text transform="matrix(0.07435 0 0 0.07826 484.51 1250.7)">H1</text>
<text class="c1" transform="matrix(0.06802 0 0 0.07826 526.51 1250.7)">L1</text>
<text transform="matrix(0.08980 0 0 0.07246 524.16 1291.6)">L2</text>
<text transform="matrix(0.07321 0 0 0.07826 479.13 1313.2)">HC</text>
<text transform="matrix(0.08108 0 0 0.07826 511.7 1313.2)">PL</text>
<path d="M554.3,1294.3H615.9V1042.5H596.3L577.8,1071.5" />
<text transform="matrix(0.07563 0 0 0.06957 601.89 1039.8)">R</text>
<ellipse cx="424.35" cy="1261.5" rx="22.8" ry="20.5" />
<text transform="matrix(0.07395 0 0 0.07681 418.32 1258.5)">R</text>
<text class="c1" transform="matrix(0.06487 0 0 0.08333 405.96 1219.7)">PILOT</text>
<text class="c1" transform="matrix(0.06573 0 0 0.08261 405.45 1234.7)">LIGHT</text>
<path d="M554.3,1302.4H611.1V1351.6H415.2V1268C415.2,1264.2 417.6,1262.1 420.7,1262.1C424.5,1262.1 427.5,1265 427.7,1268C427.7,1270 426.8,1271.8 425.4,1272.6C423.9,1271.6 423.2,1269.5 423.2,1267.8C423.5,1264.6 426.3,1262.1 429.9,1262.1C432.9,1262.1 435.3,1264.2 435.3,1268V1342.6H534.2V1322" />
<text transform="matrix(0.07863 0 0 0.07391 436.54 1337.8)">BK</text>
<text transform="matrix(0.07479 0 0 0.07101 419.9 1347.1)">R</text>
<text transform="matrix(0.07983 0 0 0.07391 597.92 1341.4)">R</text>
<text class="c1" transform="matrix(0 -0.06939 0.08768 0 643.2 1340.85)">INFINITE</text>
<text class="c1" transform="matrix(0 -0.06239 0.08768 0 643.2 1274.76)">SWITCH</text>
<text letter-spacing="5.62" transform="matrix(0.07540 0 0 0.06884 744.29 955.4)">HEATERS</text>
<circle cx="738.1" cy="975.3" r="3.4" fill="#0a0a0a" stroke="none"/>
<circle cx="822.8" cy="975.3" r="3.4" fill="#0a0a0a" stroke="none"/>
<ellipse cx="752.2" cy="975.3" rx="5.6" ry="5.1" />
<ellipse cx="808.7" cy="975.3" rx="5.6" ry="5.1" />
<path d="M738.1,975.3H746.8M814.1,975.3H822.8" />
<path d="M752.8,970.2V969.1A9.4 9.4 0 0 1 771.6,969.1A9.4 9.4 0 0 1 790.4,969.1A9.4 9.4 0 0 1 809.2,969.1V970.2" />
<circle cx="738.1" cy="1007.1" r="3.4" fill="#0a0a0a" stroke="none"/>
<circle cx="822.8" cy="1007.1" r="3.4" fill="#0a0a0a" stroke="none"/>
<ellipse cx="752.2" cy="1007.1" rx="5.6" ry="5.1" />
<ellipse cx="808.7" cy="1007.1" rx="5.6" ry="5.1" />
<path d="M738.1,1007.1H746.8M814.1,1007.1H822.8" />
<path d="M752.8,1002V1000.9A9.4 9.4 0 0 1 771.6,1000.9A9.4 9.4 0 0 1 790.4,1000.9A9.4 9.4 0 0 1 809.2,1000.9V1002" />
<path d="M738.1,975.3V1020.3H761.3V1070.5" />
<path d="M822.8,975.3V1020.3H800.9V1070.5" />
<ellipse cx="777.8" cy="1027.3" rx="34.8" ry="3.9" stroke-dasharray="9.5 4.5"/>
<ellipse cx="777.8" cy="1056.2" rx="34.8" ry="4" stroke-dasharray="9.5 4.5"/>
<path d="M743,1027.4V1056.4M812.6,1027.4V1056.4" stroke-dasharray="9.5 4.5"/>
<text class="c1" transform="matrix(0 -0.07097 0.08116 0 759.9 1048.64)">BK</text>
<text class="c2" transform="matrix(0 -0.05966 0.08551 0 798.6 1047.85)">R</text>
<text class="c1" transform="matrix(0 -0.06983 0.08188 0 723.7 1042.62)">BLU</text>
<text class="c1" transform="matrix(0 -0.05798 0.08043 0 837.4 1047.63)">R</text>
<rect x="706" y="1064.1" width="150.1" height="101.62" />
<rect x="711.3" y="1070.5" width="27.7" height="6.1" />
<rect x="747.3" y="1070.5" width="27.8" height="6.1" />
<rect x="786.4" y="1070.5" width="28.5" height="6.1" />
<rect x="825" y="1070.5" width="28.3" height="6.1" />
<path d="M725.1,1076.6V1087.2H738.8M738.8,1080.9V1093.7" />
<path d="M747.9,1080.9V1093.7M747.9,1087.2H761V1076.6" />
<path d="M801.5,1076.6V1087.2H814.9M814.9,1080.9V1093.7" />
<path d="M823.8,1080.9V1093.7M823.8,1086.6H836.7V1076.6" />
<text transform="matrix(0.09451 0 0 0.07174 710.65 1091.7)">2</text>
<text transform="matrix(0.08713 0 0 0.07174 765.55 1091.7)">4</text>
<text transform="matrix(0.08817 0 0 0.07174 787.82 1091.7)">6</text>
<text transform="matrix(0.09362 0 0 0.07391 838.86 1091.4)">8</text>
<ellipse cx="779.9" cy="1139.3" rx="13.4" ry="12.3" />
<text transform="matrix(0.08235 0 0 0.07246 773.88 1144.7)">R</text>
<rect x="728.7" y="1154.6" width="28.2" height="5.7" />
<rect x="796.8" y="1154.6" width="27.8" height="5.7" />
<path d="M742.5,1154.6V1139.7H766.5M793.3,1139.7H809.7V1154.6" />
<text transform="matrix(0.08646 0 0 0.07246 728.31 1150.9)">0</text>
<text class="c2" transform="matrix(0.04828 0 0 0.07246 818.28 1150.9)">1</text>
<text transform="matrix(0 -0.07493 0.07971 0 853.6 1162.67)">8406–40</text>
<text class="c1" transform="matrix(0 -0.05942 0.07826 0 873.6 1147.85)">RELAY</text>
<text class="c2" transform="matrix(0 -0.05176 0.07826 0 873.6 1109.02)">(DPDT)</text>
<text class="c1" transform="matrix(0.06554 0 0 0.07609 695.91 1185.4)">O/WHT</text>
<text class="c1" transform="matrix(0.06524 0 0 0.07609 761.01 1185.4)">O/WHT</text>
<path d="M741.7,1160.3V1232.3" />
<text transform="matrix(0.07903 0 0 0.07246 677.24 1039)">BK</text>
<path d="M725.1,1070.5L705.7,1041H675.1V1196.8H737 A4.5 5 0 0 1 746,1196.8 H801.3 A4.5 5 0 0 1 810.3,1196.8 H813.8V1231.2" />
<path d="M806,1160.3V1208.4H746 A4.5 5 0 0 0 737,1208.4 H716.6V1307.2H733.9" />
<text transform="matrix(0.07903 0 0 0.07319 809.64 1194.2)">BK</text>
<text transform="matrix(0.07944 0 0 0.07681 652.83 1137.9)">BK</text>
<rect x="725.1" y="1218.6" width="96.8" height="109.6" />
<text transform="matrix(0.06965 0 0 0.06884 749.97 1230.4)">8425–65</text>
<rect x="738.4" y="1232.3" width="5.9" height="24.9" />
<rect x="810.4" y="1231.2" width="6.1" height="26" />
<rect x="810.4" y="1283.5" width="6.1" height="25.5" />
<rect x="733.9" y="1295.5" width="6.3" height="25.5" />
<rect x="782.4" y="1315.6" width="28.9" height="5.4" />
<text transform="matrix(0.07435 0 0 0.07826 746.71 1249.7)">H1</text>
<text class="c1" transform="matrix(0.06802 0 0 0.07826 788.71 1249.7)">L1</text>
<text transform="matrix(0.08980 0 0 0.07246 786.36 1290.6)">L2</text>
<text transform="matrix(0.07321 0 0 0.07826 741.33 1312.2)">HC</text>
<text transform="matrix(0.08108 0 0 0.07826 773.9 1312.2)">PL</text>
<path d="M816.5,1293.3H878.1V1041.5H858.5L840,1070.5" />
<text transform="matrix(0.07563 0 0 0.06957 864.09 1038.8)">R</text>
<ellipse cx="686.55" cy="1260.5" rx="22.8" ry="20.5" />
<text transform="matrix(0.07395 0 0 0.07681 680.52 1257.5)">R</text>
<text class="c1" transform="matrix(0.06487 0 0 0.08333 668.16 1218.7)">PILOT</text>
<text class="c1" transform="matrix(0.06573 0 0 0.08261 667.65 1233.7)">LIGHT</text>
<path d="M816.5,1301.4H873.3V1350.6H677.4V1267C677.4,1263.2 679.8,1261.1 682.9,1261.1C686.7,1261.1 689.7,1264 689.9,1267C689.9,1269 689,1270.8 687.6,1271.6C686.1,1270.6 685.4,1268.5 685.4,1266.8C685.7,1263.6 688.5,1261.1 692.1,1261.1C695.1,1261.1 697.5,1263.2 697.5,1267V1341.6H796.4V1321" />
<text transform="matrix(0.07863 0 0 0.07391 698.74 1336.8)">BK</text>
<text transform="matrix(0.07479 0 0 0.07101 682.1 1346.1)">R</text>
<text transform="matrix(0.07983 0 0 0.07391 860.12 1340.4)">R</text>
</svg>
</body></html>
